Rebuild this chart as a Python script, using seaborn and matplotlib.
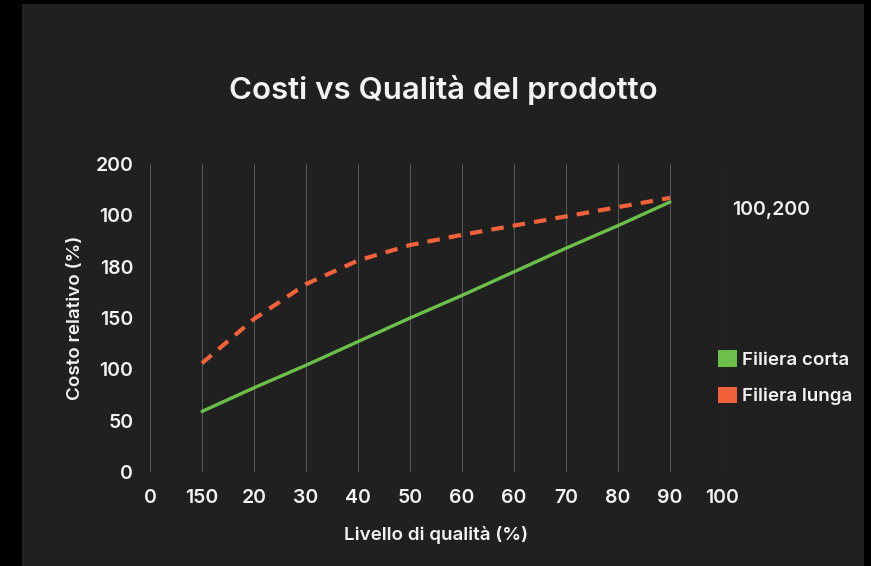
import pandas as pd
import matplotlib.pyplot as plt
import seaborn as sns
from matplotlib.patches import Patch, Rectangle

# Data (x = position on the quality axis, y = value on the cost axis)
x_labels = ["0", "150", "20", "30", "40", "50", "60", "60", "70", "80", "90", "100"]
y_labels = ["0", "50", "100", "150", "180", "100", "200"]
quality_pos = [1, 2, 3, 4, 5, 6, 7, 8, 9, 10]
filiera_corta = [59, 82, 104, 127, 150, 172, 195, 218, 240, 263]
filiera_lunga = [106, 149, 183, 206, 221, 231, 240, 249, 258, 267]
series_names = ["Filiera corta", "Filiera lunga"]
colors = ["#6cc04a", "#f2623a"]

df = pd.DataFrame({
    "Qualita": quality_pos * 2,
    "Costo": filiera_corta + filiera_lunga,
    "Serie": [series_names[0]] * len(quality_pos) + [series_names[1]] * len(quality_pos),
})

bg = "#202020"
fg = "#f2f2f2"

sns.set_theme(style="dark")
plt.rcParams["font.family"] = ["Inter", "DejaVu Sans"]
plt.rcParams["font.weight"] = "medium"

fig = plt.figure(figsize=(8.71, 5.66), dpi=100)
fig.patch.set_facecolor("black")
panel = Rectangle((22 / 871, 0), (864 - 22) / 871, 562 / 566,
                  transform=fig.transFigure, facecolor=bg,
                  edgecolor="none", zorder=-10)
fig.patches.append(panel)

ax = fig.add_axes([150 / 871, 94 / 566, 572 / 871, 308 / 566])
ax.set_facecolor(bg)

sns.lineplot(data=df[df["Serie"] == series_names[0]], x="Qualita", y="Costo",
             color=colors[0], linewidth=2.4, ax=ax, legend=False)
sns.lineplot(data=df[df["Serie"] == series_names[1]], x="Qualita", y="Costo",
             color=colors[1], linewidth=3.0, ax=ax, legend=False,
             linestyle=(0, (3, 2.2)))

ax.set_xlim(0, 11)
ax.set_ylim(0, 300)
ax.set_xticks(range(len(x_labels)))
ax.set_xticklabels(x_labels, fontweight="semibold")
ax.set_yticks(range(0, 301, 50))
ax.set_yticklabels(y_labels, fontweight="semibold")
ax.tick_params(colors=fg, labelsize=14, length=0, pad=12)
ax.xaxis.grid(True, color="#555555", linewidth=0.8)
ax.yaxis.grid(False)
for s in ax.spines.values():
    s.set_visible(False)

ax.set_xlabel("Livello di qualità (%)", color=fg, fontsize=13.5,
              fontweight="semibold", labelpad=14)
ax.set_ylabel("Costo relativo (%)", color=fg, fontsize=13.5,
              fontweight="semibold", labelpad=8)

fig.text(443 / 871, 1 - 90 / 566, "Costi vs Qualità del prodotto", color=fg,
         fontsize=22.5, fontweight="semibold", ha="center", va="center")

ax.text(11.2, 255, "100,200", color=fg, fontsize=14, fontweight="semibold",
        ha="left", va="center", clip_on=False)

handles = [Patch(facecolor=c, edgecolor="none") for c in colors]
leg = fig.legend(handles, series_names, loc="upper left",
                 bbox_to_anchor=(701 / 871, 1 - 333 / 566), frameon=False,
                 handlelength=1.0, handleheight=1.0, handletextpad=0.3,
                 labelspacing=0.95, prop={"size": 13.5, "weight": "semibold"})
for t in leg.get_texts():
    t.set_color(fg)

fig.savefig("out.png", dpi=100, facecolor=fig.get_facecolor())
